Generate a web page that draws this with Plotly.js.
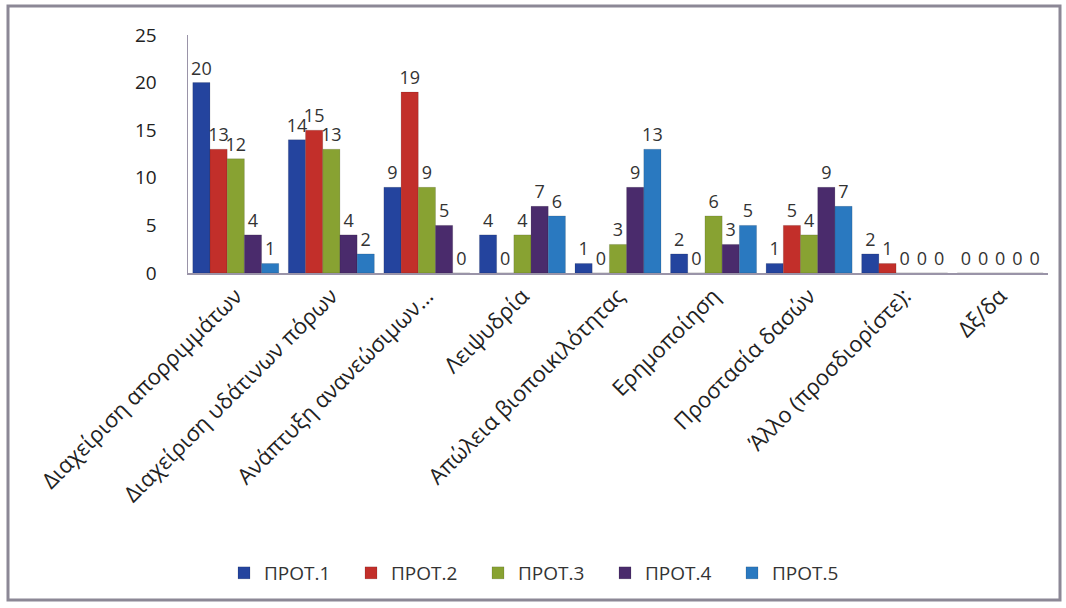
<!DOCTYPE html>
<html><head><meta charset="utf-8">
<script src="https://cdn.plot.ly/plotly-3.0.1.min.js"></script>
<style>html,body{margin:0;padding:0;background:#fff}#c{width:1066px;height:608px}</style>
</head><body><div id="c"></div>
<script>
const categories = ["Διαχείριση απορριμμάτων","Διαχείριση υδάτινων πόρων","Ανάπτυξη ανανεώσιμων...","Λειψυδρία","Απώλεια βιοποικιλότητας","Ερημοποίηση","Προστασία δασών","Άλλο (προσδιορίστε):","Δξ/δα"];
const seriesNames = ["ΠΡΟΤ.1","ΠΡΟΤ.2","ΠΡΟΤ.3","ΠΡΟΤ.4","ΠΡΟΤ.5"];
const prot1 = [20,14,9,4,1,2,1,2,0];
const prot2 = [13,15,19,0,0,0,5,1,0];
const prot3 = [12,13,9,4,3,6,4,0,0];
const prot4 = [4,4,5,7,9,3,9,0,0];
const prot5 = [1,2,0,6,13,5,7,0,0];
const yTicks = [0,5,10,15,20,25];
const colors = ["#24449e","#c22f2a","#88a232","#4a2b6c","#2a79c0"];
const allSeries = [prot1,prot2,prot3,prot4,prot5];

const traces = allSeries.map((vals,i)=>({
  type:'bar', name:seriesNames[i], x:categories, y:vals,
  marker:{color:colors[i], line:{color:'rgba(0,0,0,0.25)', width:0.5}},
  text:vals.map(String), textposition:'outside', cliponaxis:false, constraintext:'none',
  textfont:{family:'Open Sans, Noto Sans, sans-serif', size:18, color:'#333'}
}));

const layout = {
  width:1066, height:608,
  margin:{l:188, r:18, t:35, b:335},
  paper_bgcolor:'#fff', plot_bgcolor:'#fff',
  barmode:'group', bargap:0.1, bargroupgap:0,
  font:{family:'Open Sans, Noto Sans, sans-serif', color:'#222'},
  xaxis:{tickangle:-45, tickfont:{size:22, color:'#222'}, showline:true, linecolor:'#9a94a8', linewidth:1.5, ticks:'', showgrid:false},
  yaxis:{range:[0,25], tickvals:yTicks, tickfont:{size:19, color:'#222'}, showline:true, linecolor:'#9a94a8', linewidth:1.5, showgrid:false, zeroline:false, ticks:'', ticklabelstandoff:26},
  showlegend:true,
  legend:{orientation:'h', xref:'container', yref:'container', x:224/1066, xanchor:'left', y:(608-573)/608, yanchor:'middle', font:{size:19, color:'#333'}, traceorder:'normal', itemwidth:30, entrywidth:82, entrywidthmode:'pixels'},
  shapes:[{type:'rect', xref:'paper', yref:'paper', x0:(8-188)/860, x1:(1060-188)/860, y0:(273-600)/238, y1:(273-6)/238, line:{color:'#8c8896', width:3}, fillcolor:'rgba(0,0,0,0)', layer:'below'}]
};
Plotly.newPlot('c', traces, layout, {displayModeBar:false, staticPlot:true});
</script></body></html>
